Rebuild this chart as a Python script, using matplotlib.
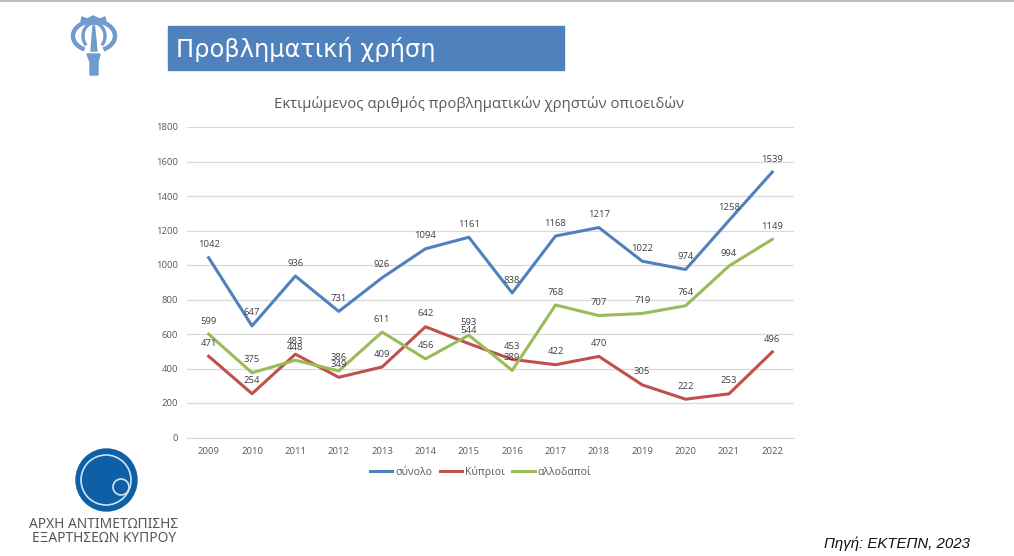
import matplotlib
matplotlib.use("Agg")
import matplotlib.pyplot as plt
from matplotlib.patches import Rectangle, Circle, Ellipse, Polygon, Arc

years = [2009, 2010, 2011, 2012, 2013, 2014, 2015, 2016, 2017, 2018, 2019, 2020, 2021, 2022]
total = [1042, 647, 936, 731, 926, 1094, 1161, 838, 1168, 1217, 1022, 974, 1258, 1539]
cypriots = [471, 254, 483, 349, 409, 642, 544, 453, 422, 470, 305, 222, 253, 496]
foreigners = [599, 375, 448, 386, 611, 456, 593, 389, 768, 707, 719, 764, 994, 1149]
y_ticks = [0, 200, 400, 600, 800, 1000, 1200, 1400, 1600, 1800]

W, H = 1014, 556
plt.rcParams['font.family'] = ['Open Sans', 'DejaVu Sans']
fig = plt.figure(figsize=(W / 100, H / 100), dpi=100)

# overlay in pixel coordinates for the slide furniture
bg = fig.add_axes([0, 0, 1, 1])
bg.set_xlim(0, W)
bg.set_ylim(H, 0)
bg.axis('off')
bg.plot([0, W], [1, 1], color='#bdbdbd', lw=1.5)

# header
bg.add_patch(Rectangle((168, 26), 396, 44, color='#4f81bd'))
bg.text(176, 50, "Προβληματική χρήση", color='white', fontsize=17.4, va='center', family='DejaVu Sans')

# poppy icon
blue = '#6f9bd1'
bg.add_patch(Arc((94, 36), 42, 30, theta1=125, theta2=55, ec=blue, lw=3.2))
bg.add_patch(Arc((94, 36), 22, 26, theta1=130, theta2=50, ec=blue, lw=2.4))
bg.add_patch(Polygon([[82, 17], [87, 19], [93, 16], [100, 19], [105, 17], [106, 22], [102, 24],
                      [85, 24], [81, 22]], color=blue))
bg.add_patch(Polygon([[93, 26], [94.5, 26], [97, 51], [91, 51]], color=blue))
bg.add_patch(Polygon([[87, 54], [100, 54], [98, 62], [98, 75], [90, 75], [90, 62]], color=blue))

# organisation logo
bg.add_patch(Ellipse((106.5, 480), 61, 62, color='#0f5fa6'))
bg.add_patch(Circle((106, 480), 25, fill=False, ec='#cfe3f3', lw=1.2))
bg.add_patch(Circle((121, 487), 8, fill=False, ec='#cfe3f3', lw=1.2))
bg.text(104, 524, "ΑΡΧΗ ΑΝΤΙΜΕΤΩΠΙΣΗΣ", color='#555555', fontsize=9.9, ha='center', va='center', family='Noto Sans')
bg.text(104, 538, "ΕΞΑΡΤΗΣΕΩΝ ΚΥΠΡΟΥ", color='#555555', fontsize=9.9, ha='center', va='center', family='Noto Sans')

bg.text(970, 544, "Πηγή: ΕΚΤΕΠΝ, 2023", color='#111111', fontsize=10.8, ha='right', va='center',
        style='italic', family='Liberation Sans')

# chart
left, right, top, bottom = 187, 794, 127, 437.5
ax = fig.add_axes([left / W, 1 - bottom / H, (right - left) / W, (bottom - top) / H])
ax.patch.set_alpha(0)
ax.plot(years, total, color='#4f81bd', lw=2.2, label='σύνολο')
ax.plot(years, cypriots, color='#c0504d', lw=2.2, label='Κύπριοι')
ax.plot(years, foreigners, color='#9bbb59', lw=2.2, label='αλλοδαποί')

for series in [total, cypriots, foreigners]:
    for yr, v in zip(years, series):
        ax.annotate(str(v), (yr, v), xytext=(0, 9.3), textcoords='offset points',
                    ha='center', va='center', fontsize=6.8, color='#404040')

ax.set_xlim(2008.5, 2022.5)
ax.set_ylim(0, 1800)
ax.set_xticks(years)
ax.set_yticks(y_ticks)
ax.tick_params(length=0, labelsize=6.8, labelcolor='#595959')
ax.tick_params(axis='x', pad=7)
ax.tick_params(axis='y', pad=6.4)
ax.grid(axis='y', color='#d9d9d9', lw=0.9)
ax.set_axisbelow(True)
for s in ['top', 'right', 'left']:
    ax.spines[s].set_visible(False)
ax.spines['bottom'].set_color('#d9d9d9')

fig.text(479 / W, 1 - 104 / H, "Εκτιμώμενος αριθμός προβληματικών χρηστών οπιοειδών",
         ha='center', va='center', fontsize=10.7, color='#595959')
ax.legend(loc='upper center', bbox_to_anchor=(0.484, -0.06), ncol=3, frameon=False, fontsize=7.6,
          labelcolor='#595959', handlelength=2.1, columnspacing=0.7, handletextpad=0.3)

fig.savefig('out.png', dpi=100)
